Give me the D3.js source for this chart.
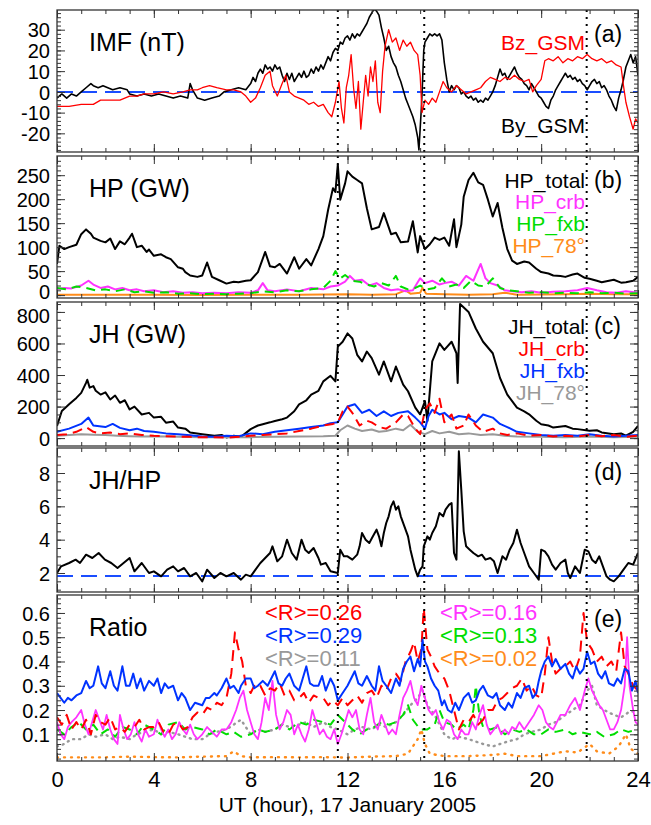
<!DOCTYPE html>
<html>
<head>
<meta charset="utf-8">
<script src="https://cdn.jsdelivr.net/npm/d3@7"></script>
<style>
  body { margin: 0; background: #fff; }
  text { font-family: "Liberation Sans", Arial, sans-serif; }
</style>
</head>
<body>
<svg id="chart" width="651" height="825"></svg>
<script>
// ---- data, [UT hour, value] ----
const imfBy = [[0,-3],[0.2,-1],[0.4,-3],[0.6,-1],[0.8,-2],[1.0,0],[1.2,2],[1.4,4],[1.5,3],[1.7,2],[1.9,3],[2.1,2],[2.3,1],[2.6,2],[2.9,1],[3.0,-1],[3.3,-2],[3.6,-1],[3.9,-2],[4.2,-1],[4.5,-2],[4.8,-3],[5.1,-2],[5.4,-3],[5.5,4],[5.6,1],[5.8,-3],[6.1,-4],[6.4,-3],[6.7,-2],[6.9,0],[7.2,1],[7.5,2],[7.8,1],
  [8.0,4],[8.1,7],[8.2,5],[8.3,9],[8.4,11],[8.5,9],[8.6,13],[8.7,11],[8.8,12],[8.9,10],[9.0,13],[9.1,11],[9.2,12],[9.3,8],[9.4,5],[9.5,9],[9.6,6],[9.7,9],[9.8,5],[9.9,7],[10.0,9],[10.1,7],[10.2,10],[10.3,7],[10.4,8],[10.5,11],[10.6,9],[10.7,12],[10.8,10],[10.9,13],[11.0,11],[11.1,14],[11.2,17],[11.3,15],[11.4,19],[11.5,21],[11.6,20],[11.7,24],[11.8,23],[11.9,26],[12.0,27],[12.1,25],[12.2,28],[12.3,26],[12.4,28],[12.5,27],[12.6,29],[12.7,31],[12.8,33],[12.9,36],[13.0,38],[13.1,40],[13.2,39],[13.3,37],[13.4,31],[13.5,26],[13.6,20],[13.7,22],[13.8,17],[13.9,14],[14.0,12],[14.1,8],[14.2,5],[14.3,1],[14.4,-3],[14.5,-6],[14.6,-9],[14.7,-12],[14.8,-16],[14.9,-22],[14.95,-28],[15.0,-18],[15.05,-8],[15.1,5],[15.15,20],[15.2,24],[15.3,26],[15.4,28],[15.5,27],[15.6,28],[15.7,27],[15.8,28],[15.9,25],[16.0,14],[16.1,6],[16.2,0],
  [16.3,3],[16.4,1],[16.5,3],[16.6,2],[16.7,-1],[16.8,0],[16.9,-2],[17.0,-3],[17.1,-2],[17.2,-4],[17.3,-3],[17.4,-5],[17.5,-4],[17.6,-5],[17.7,-3],[17.8,-4],[17.9,-2],[18.0,0],[18.1,3],[18.2,7],[18.3,11],[18.4,8],[18.5,9],[18.6,6],[18.7,8],[18.8,10],[18.9,12],[19.0,9],[19.1,7],[19.2,6],[19.3,4],[19.4,3],[19.5,1],[19.6,4],[19.7,2],[19.8,0],[19.9,-2],[20.0,-3],[20.1,-5],[20.2,-7],[20.3,-8],[20.4,-4],[20.5,-2],[20.6,1],[20.7,3],[20.8,5],[20.9,7],[21.0,9],[21.1,7],[21.2,8],[21.3,6],[21.4,7],[21.5,5],[21.6,6],[21.7,4],[21.8,3],[21.9,1],[22.0,3],[22.1,5],[22.2,6],[22.3,4],[22.4,5],[22.5,2],[22.6,3],[22.7,1],[22.8,-2],[22.9,-4],[23.0,-7],[23.1,-9],[23.2,-3],[23.3,1],[23.4,6],[23.5,12],[23.6,15],[23.7,18],[23.8,14],[23.9,17],[24,8]];
const imfBz = [[0,-7],[0.5,-7],[1.0,-6],[1.5,-6],[1.8,-4],[2.2,-4],[2.6,-4],[3.0,-2],[3.3,-2],[3.6,-1],[4.0,-1],[4.4,0],[4.8,-1],[5.2,0],[5.5,1],[5.8,1],[6.0,2],[6.3,3],[6.6,2],[7.0,1],[7.3,1],[7.6,0],[7.8,-2],[8.0,-5],[8.2,-3],[8.4,2],[8.6,8],[8.8,10],[8.9,3],[9.1,-2],[9.3,4],[9.45,8],[9.6,0],[9.8,-2],[10.0,-3],[10.2,-4],[10.4,-6],[10.6,-5],[10.8,-7],[11.0,-6],[11.2,-10],[11.35,-12],[11.5,-5],[11.65,5],[11.75,-8],[11.85,-15],[11.95,2],[12.05,8],[12.15,18],[12.25,2],[12.35,-8],[12.45,5],[12.55,-18],[12.65,-5],[12.75,8],[12.85,-2],[12.95,12],[13.05,5],[13.15,15],[13.25,-5],[13.35,-10],[13.45,10],[13.55,22],[13.7,30],[13.85,24],[14.0,26],[14.15,20],[14.3,25],[14.45,22],[14.6,24],[14.75,20],[14.9,18],[15.0,8],[15.08,-10],[15.2,-4],[15.35,-6],[15.5,-3],[15.65,-5],[15.8,0],[15.95,5],[16.1,2],[16.3,0],[16.5,3],[16.7,1],[16.9,-1],[17.1,0],[17.3,1],[17.5,2],[17.7,5],[17.9,7],[18.1,6],[18.3,5],[18.5,7],[18.7,6],[18.9,8],[19.1,6],[19.3,5],[19.5,6],[19.65,0],[19.8,3],[20.0,6],[20.15,15],[20.3,16],[20.5,15],[20.7,17],[20.9,14],[21.1,16],[21.3,15],[21.5,17],[21.7,16],[21.9,18],[22.1,16],[22.3,15],[22.5,16],[22.7,14],[22.9,15],[23.1,13],[23.3,12],[23.4,3],[23.5,-5],[23.65,-12],[23.8,-18],[23.9,-13],[24,-15]];

const hpTotal = [[0,65],[0.1,103],[0.3,96],[0.5,100],[0.8,105],[1.0,127],[1.2,137],[1.4,128],[1.5,120],[1.8,113],[2.0,110],[2.2,118],[2.4,96],[2.6,112],[2.8,106],[3.0,120],[3.1,128],[3.3,100],[3.5,103],[3.7,90],[3.8,95],[4.0,82],[4.3,85],[4.5,79],[4.7,75],[5.0,58],[5.2,55],[5.3,48],[5.5,41],[5.8,38],[6.0,41],[6.2,68],[6.4,38],[6.7,31],[7.0,24],[7.3,28],[7.5,27],[7.8,30],[8.0,31],[8.3,48],[8.6,90],[8.8,60],[9.0,58],[9.2,65],[9.5,45],[9.8,79],[10.0,55],[10.3,75],[10.5,62],[10.8,96],[11.0,123],[11.2,178],[11.4,223],[11.5,215],[11.6,272],[11.7,199],[11.9,233],[12.0,258],[12.2,247],[12.4,240],[12.6,233],[12.8,181],[13.0,137],[13.3,142],[13.5,171],[13.8,127],[14.0,130],[14.2,110],[14.5,112],[14.7,154],[14.9,89],[15.0,123],[15.2,96],[15.4,106],[15.6,120],[15.8,115],[16.0,120],[16.2,103],[16.4,158],[16.5,100],[16.7,147],[16.8,205],[17.0,240],[17.2,255],[17.4,235],[17.6,230],[17.8,199],[18.0,164],[18.2,192],[18.4,140],[18.6,96],[18.8,72],[19.0,65],[19.3,70],[19.5,68],[19.8,55],[20.0,48],[20.3,45],[20.5,41],[20.8,40],[21.0,38],[21.3,43],[21.5,45],[21.8,36],[22.0,34],[22.3,30],[22.5,27],[22.8,30],[23.0,32],[23.3,26],[23.5,27],[23.8,30],[24,38]];
const hpCrb = [[0,12],[0.3,15],[0.6,14],[1.0,20],[1.3,30],[1.5,22],[1.8,15],[2.1,18],[2.4,12],[2.7,15],[3.0,10],[3.3,12],[3.6,8],[4.0,10],[4.4,6],[4.8,8],[5.2,5],[5.6,6],[6.0,4],[6.5,5],[7.0,4],[7.5,6],[8.0,5],[8.3,10],[8.5,25],[8.7,10],[9.0,8],[9.5,12],[10.0,8],[10.5,15],[11.0,12],[11.3,18],[11.6,20],[11.9,28],[12.1,40],[12.3,30],[12.6,32],[12.9,20],[13.2,25],[13.5,15],[13.8,10],[14.1,12],[14.4,8],[14.7,10],[15.0,35],[15.2,25],[15.5,30],[15.8,22],[16.0,25],[16.3,28],[16.6,20],[16.9,40],[17.2,30],[17.5,65],[17.7,35],[17.9,25],[18.2,20],[18.5,10],[18.8,8],[19.2,6],[19.6,8],[20.0,5],[20.5,7],[21.0,8],[21.5,10],[21.9,15],[22.3,10],[22.7,6],[23.1,5],[23.5,8],[24,5]];
const hpFxb = [[0,15],[0.4,12],[0.8,18],[1.2,15],[1.6,10],[2.0,12],[2.4,8],[2.8,12],[3.2,6],[3.6,8],[4.0,5],[4.5,6],[5.0,3],[5.5,4],[6.0,2],[6.5,3],[7.0,2],[7.5,3],[8.0,4],[8.5,8],[9.0,6],[9.5,10],[10.0,8],[10.5,12],[11.0,15],[11.3,30],[11.5,50],[11.7,35],[11.9,42],[12.2,30],[12.5,28],[12.8,22],[13.1,18],[13.4,25],[13.7,20],[14.0,40],[14.2,18],[14.5,12],[14.8,15],[15.0,20],[15.3,12],[15.6,15],[15.9,35],[16.2,18],[16.5,22],[16.8,15],[17.1,30],[17.4,20],[17.7,18],[18.0,35],[18.3,15],[18.6,10],[19.0,8],[19.5,5],[20.0,6],[20.5,4],[21.0,5],[21.5,4],[22.0,6],[22.5,4],[23.0,5],[23.5,3],[24,4]];
const hp78 = [[0,1],[2,1],[4,1],[6,0],[8,1],[10,1],[12,2],[13,1],[14,2],[14.4,10],[14.6,3],[15.0,5],[15.1,15],[15.25,3],[16,2],[17,1],[18,2],[18.5,5],[19,1],[21,2],[22,3],[23,2],[24,2]];

const jhTotal = [[0,77],[0.2,172],[0.5,214],[0.8,255],[1.0,287],[1.2,350],[1.25,370],[1.35,320],[1.5,330],[1.6,300],[1.8,276],[2.0,290],[2.2,245],[2.4,270],[2.6,224],[2.8,240],[3.0,182],[3.2,200],[3.5,150],[3.8,160],[4.0,130],[4.3,135],[4.5,98],[4.8,105],[5.0,67],[5.3,60],[5.5,36],[6.0,25],[6.5,15],[6.8,20],[7.0,4],[7.3,15],[7.6,8],[8.0,57],[8.3,80],[8.5,88],[8.8,100],[9.0,109],[9.3,120],[9.5,130],[9.8,170],[10.0,214],[10.3,240],[10.5,276],[10.8,300],[11.0,360],[11.3,395],[11.5,360],[11.6,580],[11.8,611],[12.0,664],[12.2,632],[12.4,528],[12.6,486],[12.8,549],[13.0,507],[13.3,402],[13.5,486],[13.8,360],[14.0,454],[14.3,339],[14.5,297],[14.8,193],[15.0,151],[15.2,234],[15.3,109],[15.5,486],[15.8,601],[16.0,559],[16.3,611],[16.5,538],[16.55,350],[16.65,850],[17.0,800],[17.3,695],[17.6,611],[18.0,538],[18.3,381],[18.6,276],[19.0,193],[19.3,170],[19.5,151],[19.8,110],[20.0,88],[20.3,80],[20.5,67],[21.0,77],[21.3,60],[21.5,57],[22.0,46],[22.3,50],[22.5,36],[23.0,25],[23.3,30],[23.5,15],[23.8,40],[24,77]];
const jhCrb = [[0,20],[0.4,25],[0.8,40],[1.2,70],[1.5,40],[1.8,30],[2.2,35],[2.6,25],[3.0,30],[3.5,20],[4.0,15],[4.5,12],[5.0,10],[5.5,8],[6.0,5],[6.5,6],[7.0,3],[7.5,8],[8.0,15],[8.5,20],[9.0,25],[9.5,30],[10.0,45],[10.5,60],[11.0,80],[11.4,90],[11.6,100],[11.8,170],[12.0,200],[12.2,160],[12.5,80],[12.8,110],[13.0,100],[13.3,70],[13.6,60],[14.0,100],[14.3,150],[14.5,140],[14.8,60],[15.0,25],[15.2,180],[15.4,220],[15.6,160],[15.8,250],[16.0,100],[16.3,150],[16.5,60],[16.8,80],[17.0,150],[17.3,80],[17.6,40],[18.0,60],[18.3,30],[18.6,20],[19.0,30],[19.5,15],[20.0,20],[20.5,10],[21.0,15],[21.5,10],[22.0,20],[22.5,12],[23.0,20],[23.5,8],[24,15]];
const jhFxb = [[0,40],[0.5,60],[1.0,90],[1.3,130],[1.5,80],[2.0,70],[2.3,90],[2.6,65],[3.0,50],[3.3,60],[3.6,45],[4.0,40],[4.5,30],[5.0,25],[5.5,18],[6.0,10],[6.5,8],[7.0,15],[7.5,12],[8.0,30],[8.5,25],[9.0,40],[9.5,50],[10.0,60],[10.5,70],[11.0,80],[11.3,95],[11.6,100],[11.8,150],[12.0,200],[12.3,215],[12.6,160],[12.9,180],[13.2,140],[13.5,170],[13.8,140],[14.1,160],[14.5,170],[14.8,130],[15.0,100],[15.2,60],[15.35,140],[15.5,180],[15.8,150],[16.0,160],[16.3,120],[16.6,140],[17.0,130],[17.3,100],[17.6,150],[18.0,130],[18.3,90],[18.6,70],[19.0,40],[19.5,30],[20.0,20],[20.5,15],[21.0,20],[21.5,15],[22.0,25],[22.5,15],[23.0,10],[23.5,15],[24,20]];
const jh78 = [[0,15],[0.5,20],[1.0,25],[1.5,22],[2.0,20],[2.5,15],[3.0,12],[3.5,10],[4.0,12],[5.0,8],[6.0,5],[7.0,5],[8.0,6],[9.0,8],[10.0,10],[11.0,12],[11.5,15],[11.7,50],[12.0,80],[12.3,60],[12.6,45],[13.0,55],[13.3,40],[13.6,45],[14.0,60],[14.3,50],[14.6,85],[14.9,40],[15.2,25],[15.5,45],[15.8,30],[16.2,40],[16.6,25],[17.0,30],[17.5,20],[18.0,25],[18.5,15],[19.0,10],[20.0,8],[21.0,6],[22.0,10],[23.0,5],[24,8]];

const jhHp = [[0,2.0],[0.17,2.4],[0.5,2.6],[0.77,2.8],[0.95,2.6],[1.2,3.1],[1.46,2.9],[1.72,3.2],[1.98,2.8],[2.24,2.6],[2.5,2.3],[2.75,2.6],[3.0,2.9],[3.2,2.1],[3.5,2.6],[3.8,2.0],[4.0,2.1],[4.3,1.8],[4.55,2.2],[4.8,2.4],[5.0,2.1],[5.25,2.3],[5.5,1.8],[5.75,2.0],[6.0,1.5],[6.2,2.2],[6.5,1.7],[6.75,2.0],[7.0,1.8],[7.3,2.0],[7.6,1.6],[7.8,1.9],[8.0,1.8],[8.2,2.2],[8.4,2.6],[8.6,2.9],[8.8,3.2],[8.9,3.6],[9.1,2.7],[9.3,3.0],[9.5,4.0],[9.7,3.2],[9.9,2.8],[10.1,4.0],[10.25,3.4],[10.4,3.2],[10.6,3.5],[10.8,2.9],[10.9,2.5],[11.1,2.6],[11.3,2.1],[11.6,2.0],[11.7,3.4],[11.85,3.0],[12.0,3.0],[12.2,2.8],[12.4,3.1],[12.5,3.6],[12.6,4.4],[12.75,4.0],[12.9,3.8],[13.05,4.2],[13.2,4.6],[13.3,4.2],[13.4,3.6],[13.5,4.4],[13.6,5.0],[13.7,5.4],[13.8,6.0],[13.9,6.3],[14.0,5.8],[14.1,6.0],[14.2,5.4],[14.35,4.8],[14.5,4.2],[14.6,3.4],[14.7,2.8],[14.8,2.2],[14.9,1.8],[15.0,2.2],[15.1,2.4],[15.15,3.6],[15.3,4.2],[15.4,4.0],[15.5,4.4],[15.65,4.8],[15.8,5.6],[15.95,5.4],[16.05,5.8],[16.2,6.1],[16.3,6.2],[16.4,3.2],[16.5,2.8],[16.6,9.3],[16.7,7.0],[16.8,4.5],[16.9,3.6],[17.05,3.4],[17.2,3.2],[17.4,3.0],[17.55,3.1],[17.7,2.8],[17.9,2.9],[18.05,2.7],[18.2,2.0],[18.4,3.0],[18.55,2.8],[18.7,3.4],[18.85,3.8],[19.0,4.6],[19.15,3.8],[19.3,3.2],[19.4,2.8],[19.5,2.4],[19.7,2.0],[19.9,1.6],[20.0,3.4],[20.15,3.3],[20.3,3.0],[20.45,2.5],[20.6,2.2],[20.8,2.6],[21.0,2.8],[21.1,2.0],[21.2,1.7],[21.4,2.4],[21.6,2.0],[21.8,3.4],[21.95,3.3],[22.1,2.8],[22.25,2.6],[22.4,3.0],[22.55,2.4],[22.7,1.8],[22.85,1.6],[23.0,1.5],[23.2,1.8],[23.4,2.2],[23.6,2.6],[23.8,2.5],[24,3.2]];

const rJhFxb = [[0,0.27],[0.15,0.25],[0.3,0.23],[0.45,0.25],[0.6,0.24],[0.8,0.26],[1.0,0.27],[1.2,0.32],[1.35,0.29],[1.5,0.30],[1.7,0.38],[1.85,0.31],[2.0,0.29],[2.2,0.36],[2.35,0.30],[2.5,0.28],[2.7,0.38],[2.85,0.30],[3.0,0.30],[3.15,0.35],[3.3,0.29],[3.45,0.33],[3.6,0.28],[3.8,0.32],[4.0,0.30],[4.15,0.33],[4.3,0.27],[4.45,0.31],[4.6,0.29],[4.8,0.30],[5.0,0.24],[5.15,0.27],[5.3,0.25],[5.5,0.20],[5.7,0.23],[6.0,0.22],[6.15,0.25],[6.3,0.25],[6.5,0.27],[6.6,0.26],[6.8,0.29],[7.0,0.33],[7.15,0.29],[7.3,0.30],[7.5,0.27],[7.6,0.30],[7.8,0.33],[8.0,0.33],[8.15,0.29],[8.3,0.30],[8.5,0.32],[8.7,0.30],[8.85,0.33],[9.0,0.36],[9.15,0.31],[9.3,0.30],[9.45,0.33],[9.6,0.35],[9.8,0.30],[10.0,0.28],[10.15,0.33],[10.3,0.38],[10.45,0.31],[10.6,0.30],[10.8,0.30],[10.95,0.34],[11.1,0.28],[11.3,0.33],[11.45,0.30],[11.6,0.24],[11.8,0.27],[12.0,0.30],[12.15,0.33],[12.3,0.36],[12.45,0.31],[12.6,0.30],[12.8,0.34],[13.0,0.30],[13.15,0.28],[13.3,0.38],[13.45,0.32],[13.6,0.30],[13.8,0.27],[14.0,0.33],[14.15,0.30],[14.3,0.37],[14.45,0.40],[14.6,0.42],[14.75,0.36],[14.9,0.41],[15.0,0.38],[15.1,0.49],[15.2,0.40],[15.3,0.38],[15.45,0.33],[15.6,0.30],[15.75,0.28],[15.9,0.22],[16.0,0.24],[16.15,0.20],[16.3,0.19],[16.45,0.23],[16.6,0.20],[16.8,0.25],[17.0,0.27],[17.15,0.23],[17.3,0.24],[17.45,0.28],[17.6,0.30],[17.8,0.26],[18.0,0.25],[18.15,0.27],[18.3,0.22],[18.5,0.20],[18.65,0.23],[18.8,0.21],[19.0,0.27],[19.15,0.25],[19.3,0.29],[19.5,0.30],[19.65,0.25],[19.8,0.27],[19.9,0.32],[20.0,0.36],[20.15,0.40],[20.3,0.42],[20.45,0.38],[20.6,0.41],[20.8,0.37],[21.0,0.39],[21.15,0.35],[21.3,0.33],[21.45,0.38],[21.6,0.35],[21.75,0.37],[21.9,0.44],[22.05,0.39],[22.2,0.40],[22.35,0.35],[22.5,0.33],[22.65,0.36],[22.8,0.31],[23.0,0.30],[23.15,0.33],[23.3,0.31],[23.45,0.37],[23.6,0.36],[23.75,0.28],[23.9,0.32],[24,0.27]];
const rJhCrb = [[0,0.17],[0.2,0.14],[0.4,0.18],[0.6,0.12],[0.8,0.15],[1.0,0.12],[1.2,0.16],[1.4,0.10],[1.6,0.18],[1.8,0.15],[2.0,0.14],[2.2,0.17],[2.4,0.12],[2.6,0.13],[2.8,0.11],[3.0,0.14],[3.2,0.13],[3.4,0.16],[3.6,0.12],[3.8,0.13],[4.0,0.13],[4.2,0.15],[4.4,0.11],[4.6,0.10],[4.8,0.14],[5.0,0.15],[5.2,0.12],[5.4,0.13],[5.6,0.17],[5.8,0.19],[6.0,0.18],[6.2,0.21],[6.4,0.20],[6.6,0.23],[6.8,0.22],[7.0,0.25],[7.2,0.35],[7.35,0.52],[7.5,0.45],[7.65,0.40],[7.8,0.30],[8.0,0.27],[8.2,0.31],[8.4,0.30],[8.6,0.26],[8.8,0.29],[9.0,0.28],[9.2,0.31],[9.4,0.26],[9.6,0.28],[9.8,0.24],[10.0,0.25],[10.2,0.27],[10.4,0.23],[10.6,0.26],[10.8,0.25],[11.0,0.25],[11.2,0.22],[11.4,0.24],[11.6,0.22],[11.8,0.25],[12.0,0.22],[12.2,0.24],[12.4,0.26],[12.6,0.23],[12.8,0.27],[13.0,0.28],[13.2,0.25],[13.4,0.30],[13.6,0.28],[13.8,0.33],[14.0,0.35],[14.2,0.32],[14.4,0.40],[14.6,0.44],[14.75,0.48],[14.9,0.40],[15.05,0.45],[15.15,0.62],[15.3,0.45],[15.45,0.42],[15.6,0.38],[15.8,0.35],[16.0,0.33],[16.2,0.28],[16.4,0.20],[16.6,0.12],[16.8,0.16],[17.0,0.15],[17.2,0.18],[17.4,0.14],[17.6,0.16],[17.8,0.20],[18.0,0.20],[18.2,0.24],[18.4,0.25],[18.6,0.27],[18.8,0.29],[19.0,0.30],[19.2,0.33],[19.4,0.28],[19.6,0.30],[19.8,0.26],[20.0,0.25],[20.15,0.35],[20.3,0.50],[20.45,0.40],[20.6,0.35],[20.8,0.37],[21.0,0.38],[21.2,0.40],[21.4,0.36],[21.6,0.42],[21.75,0.60],[21.9,0.48],[22.1,0.45],[22.3,0.40],[22.5,0.42],[22.7,0.38],[22.9,0.40],[23.1,0.36],[23.3,0.52],[23.45,0.38],[23.6,0.35],[23.8,0.30],[24,0.28]];
const rJh78 = [[0,0.05],[0.3,0.06],[0.6,0.08],[1.0,0.08],[1.3,0.10],[1.6,0.09],[2.0,0.10],[2.3,0.08],[2.6,0.09],[3.0,0.08],[3.3,0.10],[3.6,0.11],[4.0,0.12],[4.3,0.10],[4.6,0.11],[5.0,0.10],[5.3,0.09],[5.6,0.08],[6.0,0.08],[6.3,0.10],[6.6,0.11],[7.0,0.12],[7.3,0.14],[7.6,0.16],[8.0,0.10],[8.3,0.12],[8.6,0.11],[9.0,0.12],[9.3,0.14],[9.6,0.13],[10.0,0.14],[10.3,0.15],[10.6,0.13],[11.0,0.15],[11.3,0.13],[11.6,0.12],[12.0,0.10],[12.3,0.12],[12.6,0.13],[13.0,0.12],[13.3,0.14],[13.6,0.13],[14.0,0.15],[14.3,0.18],[14.6,0.22],[14.9,0.25],[15.1,0.28],[15.3,0.22],[15.6,0.18],[16.0,0.10],[16.3,0.08],[16.6,0.09],[17.0,0.08],[17.3,0.07],[17.6,0.06],[18.0,0.05],[18.3,0.06],[18.6,0.07],[19.0,0.08],[19.3,0.10],[19.6,0.11],[20.0,0.12],[20.3,0.14],[20.6,0.15],[21.0,0.18],[21.3,0.20],[21.6,0.22],[21.9,0.28],[22.1,0.30],[22.3,0.22],[22.6,0.20],[23.0,0.18],[23.3,0.17],[23.6,0.19],[24,0.20]];
const rHpCrb = [[0,0.15],[0.15,0.10],[0.3,0.08],[0.45,0.13],[0.6,0.15],[0.8,0.17],[1.0,0.20],[1.15,0.14],[1.3,0.10],[1.45,0.15],[1.6,0.20],[1.75,0.16],[1.9,0.12],[2.05,0.18],[2.2,0.12],[2.35,0.08],[2.5,0.06],[2.6,0.18],[2.75,0.12],[2.9,0.08],[3.05,0.10],[3.2,0.15],[3.35,0.10],[3.5,0.07],[3.65,0.12],[3.8,0.09],[4.0,0.10],[4.15,0.16],[4.3,0.12],[4.45,0.09],[4.6,0.12],[4.75,0.08],[4.9,0.10],[5.05,0.15],[5.2,0.12],[5.35,0.10],[5.5,0.14],[5.65,0.10],[5.8,0.08],[6.0,0.10],[6.2,0.13],[6.4,0.11],[6.6,0.09],[6.8,0.12],[7.0,0.12],[7.2,0.15],[7.4,0.20],[7.55,0.25],[7.7,0.28],[7.85,0.20],[8.0,0.15],[8.15,0.10],[8.3,0.08],[8.45,0.15],[8.6,0.25],[8.75,0.20],[8.9,0.32],[9.05,0.18],[9.2,0.12],[9.35,0.15],[9.5,0.20],[9.65,0.18],[9.8,0.10],[9.95,0.14],[10.1,0.10],[10.25,0.07],[10.4,0.12],[10.55,0.20],[10.7,0.15],[10.85,0.10],[11.0,0.12],[11.15,0.09],[11.3,0.08],[11.45,0.12],[11.6,0.06],[11.75,0.10],[11.9,0.15],[12.05,0.20],[12.2,0.17],[12.35,0.20],[12.5,0.12],[12.65,0.10],[12.8,0.18],[12.95,0.25],[13.1,0.15],[13.25,0.12],[13.4,0.18],[13.55,0.14],[13.7,0.10],[13.85,0.12],[14.0,0.10],[14.15,0.18],[14.3,0.25],[14.45,0.28],[14.6,0.32],[14.75,0.25],[14.9,0.22],[15.05,0.30],[15.2,0.25],[15.35,0.20],[15.5,0.18],[15.65,0.20],[15.8,0.15],[15.95,0.12],[16.1,0.16],[16.25,0.15],[16.4,0.10],[16.55,0.08],[16.7,0.12],[16.85,0.10],[17.0,0.10],[17.15,0.15],[17.3,0.12],[17.45,0.18],[17.6,0.22],[17.75,0.14],[17.9,0.10],[18.05,0.12],[18.2,0.14],[18.35,0.10],[18.5,0.12],[18.65,0.10],[18.8,0.13],[18.95,0.12],[19.1,0.15],[19.3,0.12],[19.5,0.15],[19.7,0.18],[19.9,0.22],[20.05,0.20],[20.2,0.15],[20.35,0.13],[20.5,0.12],[20.65,0.15],[20.8,0.18],[21.0,0.18],[21.2,0.22],[21.4,0.25],[21.6,0.20],[21.8,0.28],[21.95,0.33],[22.1,0.28],[22.25,0.25],[22.4,0.22],[22.55,0.20],[22.7,0.16],[22.85,0.12],[23.0,0.12],[23.15,0.15],[23.3,0.20],[23.45,0.30],[23.55,0.50],[23.65,0.30],[23.8,0.20],[23.9,0.15],[24,0.14]];
const rHpFxb = [[0,0.12],[0.3,0.10],[0.6,0.13],[0.9,0.15],[1.2,0.12],[1.5,0.14],[1.8,0.10],[2.1,0.12],[2.4,0.09],[2.7,0.13],[3.0,0.12],[3.3,0.10],[3.6,0.14],[4.0,0.12],[4.3,0.10],[4.6,0.14],[5.0,0.15],[5.3,0.12],[5.6,0.13],[6.0,0.12],[6.3,0.10],[6.6,0.12],[7.0,0.10],[7.3,0.11],[7.6,0.09],[8.0,0.10],[8.3,0.12],[8.6,0.11],[9.0,0.12],[9.3,0.14],[9.6,0.12],[10.0,0.15],[10.3,0.14],[10.6,0.16],[11.0,0.15],[11.3,0.14],[11.6,0.18],[11.9,0.15],[12.2,0.12],[12.5,0.10],[12.8,0.12],[13.1,0.13],[13.4,0.15],[13.7,0.14],[14.0,0.15],[14.3,0.18],[14.5,0.22],[14.7,0.16],[15.0,0.12],[15.3,0.12],[15.6,0.14],[15.8,0.20],[16.0,0.15],[16.3,0.14],[16.5,0.12],[16.8,0.14],[17.0,0.12],[17.2,0.20],[17.3,0.30],[17.45,0.18],[17.6,0.13],[17.9,0.12],[18.2,0.13],[18.5,0.10],[18.8,0.12],[19.1,0.11],[19.4,0.12],[19.7,0.10],[20.0,0.10],[20.3,0.12],[20.6,0.11],[21.0,0.12],[21.3,0.10],[21.6,0.11],[22.0,0.10],[22.3,0.11],[22.6,0.09],[23.0,0.10],[23.3,0.12],[23.6,0.11],[24,0.12]];
const rHp78 = [[0,0.005],[1,0.005],[2,0.005],[3,0.008],[4,0.006],[5,0.005],[6,0.008],[7,0.01],[7.3,0.03],[7.6,0.01],[8,0.005],[9,0.006],[10,0.005],[11,0.006],[12,0.004],[13,0.008],[14,0.01],[14.5,0.02],[14.9,0.08],[15.05,0.12],[15.2,0.06],[15.4,0.02],[16,0.01],[17,0.01],[18,0.015],[18.5,0.02],[19,0.01],[20,0.01],[20.5,0.02],[21,0.03],[21.5,0.025],[22,0.06],[22.3,0.03],[22.8,0.02],[23.2,0.05],[23.5,0.10],[23.7,0.04],[24,0.02]];

// event times (dotted verticals) and tick values
const eventHours = [11.6, 15.17, 21.88];
const hourTicks = [0, 4, 8, 12, 16, 20, 24];
const ratioMeans = ["0.26", "0.29", "0.11", "0.16", "0.13", "0.02"];

// ---- layout ----
const svg = d3.select("#chart");
const x = d3.scaleLinear().domain([0, 24]).range([57, 638]);
const frameColor = "#333";

const panels = [
  { top: 10, bottom: 152, domain: [-29, 39.5], ticks: [-20, -10, 0, 10, 20, 30], minor: d3.range(-28, 40, 2),
    title: "IMF (nT)", tag: "(a)", ref: 0,
    series: [ { d: imfBy, c: "#000", w: 1.6 }, { d: imfBz, c: "#ff0000", w: 1.3 } ] },
  { top: 156, bottom: 298, domain: [-6, 290], ticks: [0, 50, 100, 150, 200, 250], minor: d3.range(0, 290, 10),
    title: "HP (GW)", tag: "(b)", shift: { 0: -4 },
    series: [ { d: hpTotal, c: "#000", w: 2 }, { d: hp78, c: "#ff8c1a", w: 2 },
              { d: hpCrb, c: "#ff33ff", w: 2 }, { d: hpFxb, c: "#00dd00", w: 2, dash: "9,6" } ] },
  { top: 302, bottom: 446, domain: [-50, 863], ticks: [0, 200, 400, 600, 800], minor: d3.range(0, 863, 50),
    title: "JH (GW)", tag: "(c)", shift: { 800: 3 },
    series: [ { d: jhTotal, c: "#000", w: 2 }, { d: jh78, c: "#999", w: 2 },
              { d: jhFxb, c: "#0033ff", w: 2 }, { d: jhCrb, c: "#ff0000", w: 2, dash: "10,6" } ] },
  { top: 448, bottom: 592, domain: [0.86, 9.5], ticks: [2, 4, 6, 8], minor: d3.range(1, 9.5, 0.5),
    title: "JH/HP", tag: "(d)", ref: 1.82,
    series: [ { d: jhHp, c: "#000", w: 2 } ] },
  { top: 595, bottom: 761, domain: [-0.01, 0.674], ticks: [0.1, 0.2, 0.3, 0.4, 0.5, 0.6], minor: d3.range(0, 0.67, 0.02),
    title: "Ratio", tag: "(e)",
    series: [ { d: rJh78, c: "#999", w: 2.4, dash: "1,5" }, { d: rHp78, c: "#ff8c1a", w: 2.4, dash: "1,6" },
              { d: rHpFxb, c: "#00dd00", w: 2, dash: "9,6" }, { d: rHpCrb, c: "#ff33ff", w: 1.8 },
              { d: rJhCrb, c: "#ff0000", w: 2, dash: "11,7" }, { d: rJhFxb, c: "#0033ff", w: 2 } ] }
];

// legends: [panel, text, colour, x, baseline]
const legends = [
  [0, "Bz_GSM", "#ff0000", 585, 50],
  [0, "By_GSM", "#000", 585, 133],
  [1, "HP_total", "#000", 585, 188],
  [1, "HP_crb", "#ff33ff", 585, 209],
  [1, "HP_fxb", "#00dd00", 585, 231],
  [1, "HP_78°", "#ff8c1a", 585, 253],
  [2, "JH_total", "#000", 585, 334],
  [2, "JH_crb", "#ff0000", 585, 356],
  [2, "JH_fxb", "#0033ff", 585, 378],
  [2, "JH_78°", "#999", 585, 400]
];
const ratioLegend = [
  ["#ff0000", 265, 620], ["#0033ff", 265, 643], ["#999", 265, 666],
  ["#ff33ff", 440, 620], ["#00dd00", 440, 643], ["#ff8c1a", 440, 666]
];

panels.forEach((p, i) => {
  const y = d3.scaleLinear().domain(p.domain).range([p.bottom, p.top]);
  const clipId = "clip" + i;
  svg.append("clipPath").attr("id", clipId)
    .append("rect").attr("x", x(0)).attr("y", p.top)
    .attr("width", x(24) - x(0)).attr("height", p.bottom - p.top);

  const plot = svg.append("g").attr("clip-path", `url(#${clipId})`);

  // dashed reference line
  if (p.ref !== undefined) {
    plot.append("line")
      .attr("x1", x(0)).attr("x2", x(24))
      .attr("y1", y(p.ref)).attr("y2", y(p.ref))
      .attr("stroke", "#1a4dff").attr("stroke-width", 2)
      .attr("stroke-dasharray", "16,8");
  }

  const line = d3.line().x(d => x(d[0])).y(d => y(d[1]));
  p.series.forEach(s => {
    plot.append("path")
      .attr("d", line(s.d))
      .attr("fill", "none")
      .attr("stroke", s.c)
      .attr("stroke-width", s.w)
      .attr("stroke-linejoin", "round")
      .attr("stroke-linecap", s.dash && s.dash.startsWith("1,") ? "round" : "butt")
      .attr("stroke-dasharray", s.dash || null);
  });

  // event markers
  eventHours.forEach(h => {
    plot.append("line")
      .attr("x1", x(h)).attr("x2", x(h))
      .attr("y1", p.top).attr("y2", p.bottom)
      .attr("stroke", "#000").attr("stroke-width", 2)
      .attr("stroke-dasharray", "2,5");
  });

  // axes, ticks pointing inward on all four sides
  const axes = svg.append("g").attr("color", frameColor);
  const isLast = i === panels.length - 1;
  const shift = p.shift || {};
  axes.append("g").attr("transform", `translate(${x(0)},0)`)
    .call(d3.axisLeft(y).tickValues(p.ticks).tickSize(-8).tickPadding(7).tickFormat(d => String(d)))
    .call(g => g.selectAll("text").attr("font-size", 20).attr("fill", "#000")
      .attr("dy", "0.36em").attr("y", d => shift[d] || 0));
  axes.append("g").attr("transform", `translate(${x(0)},0)`)
    .call(d3.axisLeft(y).tickValues(p.minor).tickSize(-4).tickFormat(""));
  axes.append("g").attr("transform", `translate(${x(24)},0)`)
    .call(d3.axisRight(y).tickValues(p.ticks).tickSize(-8).tickFormat(""));
  axes.append("g").attr("transform", `translate(${x(24)},0)`)
    .call(d3.axisRight(y).tickValues(p.minor).tickSize(-4).tickFormat(""));
  axes.append("g").attr("transform", `translate(0,${p.top})`)
    .call(d3.axisTop(x).tickValues(hourTicks).tickSize(-8).tickFormat(""));
  axes.append("g").attr("transform", `translate(0,${p.top})`)
    .call(d3.axisTop(x).tickValues(d3.range(0, 25)).tickSize(-4).tickFormat(""));
  axes.append("g").attr("transform", `translate(0,${p.bottom})`)
    .call(d3.axisBottom(x).tickValues(hourTicks).tickSize(-8).tickPadding(10)
      .tickFormat(isLast ? d => String(d) : ""))
    .call(g => g.selectAll("text").attr("font-size", 22).attr("fill", "#000"));
  axes.append("g").attr("transform", `translate(0,${p.bottom})`)
    .call(d3.axisBottom(x).tickValues(d3.range(0, 25)).tickSize(-4).tickFormat(""));
  axes.selectAll(".domain").remove();
  axes.selectAll(".tick line").attr("stroke-width", 1);

  svg.append("rect")
    .attr("x", x(0)).attr("y", p.top)
    .attr("width", x(24) - x(0)).attr("height", p.bottom - p.top)
    .attr("fill", "none").attr("stroke", frameColor).attr("stroke-width", 1.3);

  // panel title and tag
  svg.append("text").attr("x", 89).attr("y", p.top + 41)
    .attr("font-size", 25).text(p.title);
  svg.append("text").attr("x", 594).attr("y", p.top + 32)
    .attr("font-size", 23).text(p.tag);
});

legends.forEach(l => {
  svg.append("text")
    .attr("x", l[3]).attr("y", l[4])
    .attr("text-anchor", "end")
    .attr("font-size", 21)
    .attr("fill", l[2])
    .text(l[1]);
});

ratioLegend.forEach((l, k) => {
  svg.append("text")
    .attr("x", l[1]).attr("y", l[2])
    .attr("font-size", 22)
    .attr("fill", l[0])
    .text("<R>=" + ratioMeans[k]);
});

// x axis title
svg.append("text")
  .attr("x", (x(0) + x(24)) / 2).attr("y", 812)
  .attr("text-anchor", "middle")
  .attr("font-size", 21)
  .text("UT (hour), 17 January 2005");
</script>
</body>
</html>
